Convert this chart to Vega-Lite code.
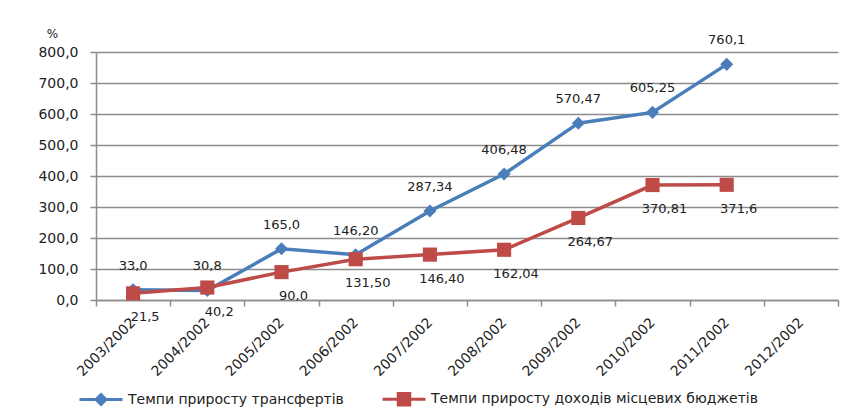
{
  "$schema": "https://vega.github.io/schema/vega-lite/v6.json",
  "autosize": "none",
  "width": 742,
  "height": 248,
  "padding": {"left": 96, "top": 52, "right": 10, "bottom": 119},
  "background": "white",
  "config": {
    "locale": {"number": {"decimal": ",", "thousands": " ", "grouping": [3], "currency": ["", ""]}},
    "font": "DejaVu Sans",
    "view": {"stroke": null},
    "axis": {"labelFont": "DejaVu Sans", "labelFontSize": 12, "labelColor": "#222", "domainColor": "#8c8c8c", "tickColor": "#8c8c8c", "gridColor": "#8c8c8c", "domainWidth": 1.5, "tickWidth": 1.5, "gridWidth": 1.5}
  },
  "data": {"values": [
    {"year": "2003/2002", "series": "Темпи приросту трансфертів", "value": 33.0, "label": "33,0"},
    {"year": "2004/2002", "series": "Темпи приросту трансфертів", "value": 30.8, "label": "30,8"},
    {"year": "2005/2002", "series": "Темпи приросту трансфертів", "value": 165.0, "label": "165,0"},
    {"year": "2006/2002", "series": "Темпи приросту трансфертів", "value": 146.20, "label": "146,20"},
    {"year": "2007/2002", "series": "Темпи приросту трансфертів", "value": 287.34, "label": "287,34"},
    {"year": "2008/2002", "series": "Темпи приросту трансфертів", "value": 406.48, "label": "406,48"},
    {"year": "2009/2002", "series": "Темпи приросту трансфертів", "value": 570.47, "label": "570,47"},
    {"year": "2010/2002", "series": "Темпи приросту трансфертів", "value": 605.25, "label": "605,25"},
    {"year": "2011/2002", "series": "Темпи приросту трансфертів", "value": 760.1, "label": "760,1"},
    {"year": "2003/2002", "series": "Темпи приросту доходів місцевих бюджетів", "value": 21.5, "label": "21,5"},
    {"year": "2004/2002", "series": "Темпи приросту доходів місцевих бюджетів", "value": 40.2, "label": "40,2"},
    {"year": "2005/2002", "series": "Темпи приросту доходів місцевих бюджетів", "value": 90.0, "label": "90,0"},
    {"year": "2006/2002", "series": "Темпи приросту доходів місцевих бюджетів", "value": 131.50, "label": "131,50"},
    {"year": "2007/2002", "series": "Темпи приросту доходів місцевих бюджетів", "value": 146.40, "label": "146,40"},
    {"year": "2008/2002", "series": "Темпи приросту доходів місцевих бюджетів", "value": 162.04, "label": "162,04"},
    {"year": "2009/2002", "series": "Темпи приросту доходів місцевих бюджетів", "value": 264.67, "label": "264,67"},
    {"year": "2010/2002", "series": "Темпи приросту доходів місцевих бюджетів", "value": 370.81, "label": "370,81"},
    {"year": "2011/2002", "series": "Темпи приросту доходів місцевих бюджетів", "value": 371.6, "label": "371,6"}
  ]},
  "encoding": {
    "x": {
      "field": "year", "type": "ordinal", "sort": null, "bandPosition": 0.5,
      "scale": {"type": "band", "paddingInner": 0, "paddingOuter": 0,
        "domain": ["2003/2002", "2004/2002", "2005/2002", "2006/2002", "2007/2002", "2008/2002", "2009/2002", "2010/2002", "2011/2002", "2012/2002"]},
      "axis": {"title": null, "labelAngle": -45, "labelAlign": "right", "labelBaseline": "middle", "labelPadding": 14, "tickBand": "extent", "tickSize": 6, "grid": false, "labelFontSize": 14}
    },
    "y": {
      "field": "value", "type": "quantitative",
      "scale": {"domain": [0, 800], "nice": false},
      "axis": {"title": "%", "titleAngle": 0, "titleX": -44, "titleY": -19, "titleAlign": "center", "titleBaseline": "middle", "titleFont": "DejaVu Sans", "titleFontSize": 12, "titleFontWeight": "normal", "titleColor": "#222",
        "values": [0, 100, 200, 300, 400, 500, 600, 700, 800], "format": ".1f", "tickSize": 6, "labelPadding": 12, "grid": true, "labelFontSize": 14}
    }
  },
  "layer": [
    {
      "mark": {"type": "line", "strokeWidth": 3.5},
      "encoding": {
        "color": {"field": "series", "type": "nominal", "sort": null,
          "scale": {"domain": ["Темпи приросту трансфертів", "Темпи приросту доходів місцевих бюджетів"], "range": ["#4A7EBB", "#BE4B48"]},
          "legend": {
            "title": null, "orient": "none", "legendX": -2, "legendY": 340, "direction": "horizontal",
            "labelFont": "DejaVu Sans", "labelFontSize": 14, "labelColor": "#222", "labelLimit": 500,
            "symbolSize": 100, "labelOffset": 20, "columnPadding": 32, "symbolStrokeWidth": 3,
            "encode": {"symbols": {"update": {
              "shape": {"signal": "datum.value === 'Темпи приросту трансфертів' ? 'M-4.3,0H4.3M0,-1L1,0L0,1L-1,0Z' : 'M-4.3,0H4.3M-1.15,-1.15H1.15V1.15H-1.15Z'"},
              "fill": {"signal": "datum.value === 'Темпи приросту трансфертів' ? '#4A7EBB' : '#BE4B48'"},
              "stroke": {"signal": "datum.value === 'Темпи приросту трансфертів' ? '#4A7EBB' : '#BE4B48'"},
              "strokeWidth": {"value": 3}
            }}}
          }
        }
      }
    },
    {
      "transform": [{"filter": "datum.series === 'Темпи приросту трансфертів'"}],
      "mark": {"type": "point", "filled": true, "opacity": 1, "shape": "diamond", "size": 170, "color": "#4A7EBB"}
    },
    {
      "transform": [{"filter": "datum.series === 'Темпи приросту доходів місцевих бюджетів'"}],
      "mark": {"type": "point", "filled": true, "opacity": 1, "shape": "square", "size": 200, "color": "#BE4B48"}
    },
    {
      "transform": [{"filter": "datum.series === 'Темпи приросту трансфертів'"}],
      "mark": {"type": "text", "dy": -24, "fontSize": 13, "font": "DejaVu Sans", "color": "#222"},
      "encoding": {"text": {"field": "label", "type": "nominal"}}
    },
    {
      "transform": [{"filter": "datum.series === 'Темпи приросту доходів місцевих бюджетів'"}],
      "mark": {"type": "text", "dy": 24, "dx": 12, "fontSize": 13, "font": "DejaVu Sans", "color": "#222"},
      "encoding": {"text": {"field": "label", "type": "nominal"}}
    }
  ]
}
